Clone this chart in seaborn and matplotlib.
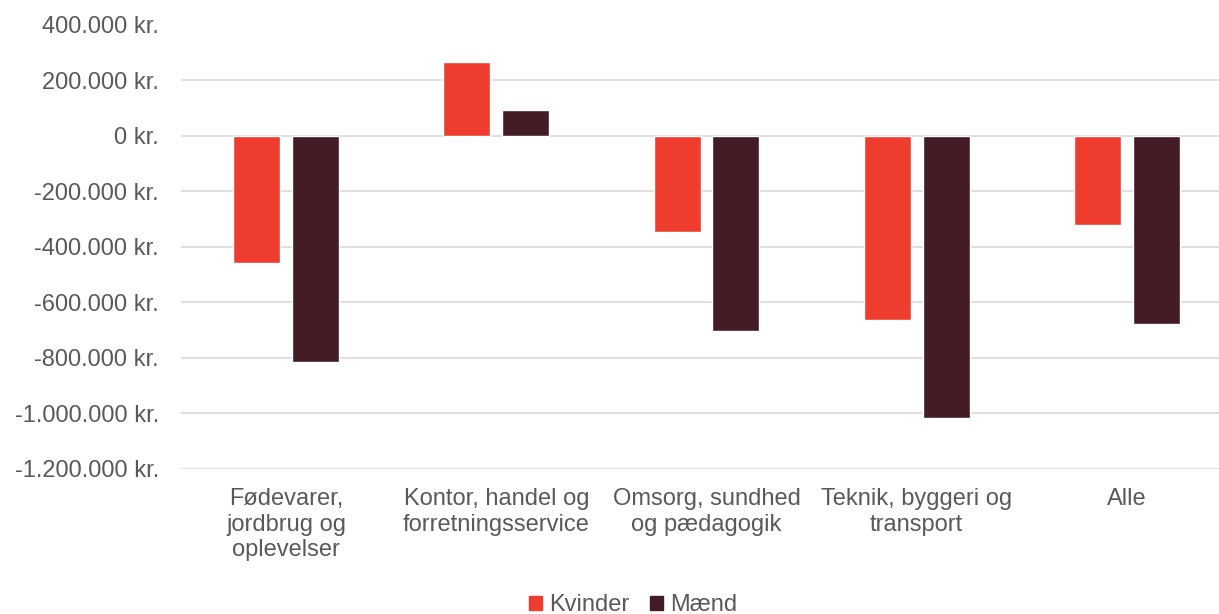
import pandas as pd
import matplotlib
matplotlib.use("Agg")
import matplotlib.pyplot as plt
import seaborn as sns
from matplotlib.ticker import FuncFormatter, MultipleLocator

# data
categories = [
    "Fødevarer,\njordbrug og\noplevelser",
    "Kontor, handel og\nforretningsservice",
    "Omsorg, sundhed\nog pædagogik",
    "Teknik, byggeri og\ntransport",
    "Alle",
]
kvinder = [-460000, 264000, -348000, -663000, -321000]
maend = [-815000, 91000, -704000, -1018000, -677000]
series = ["Kvinder", "Mænd"]
colors = ["#EE3D2F", "#441C26"]

df = pd.DataFrame({
    "kategori": categories * 2,
    "køn": [series[0]] * len(categories) + [series[1]] * len(categories),
    "værdi": kvinder + maend,
})

sns.set_theme(style="white")
plt.rcParams["font.family"] = ["Liberation Sans", "DejaVu Sans"]
text_color = "#595959"

fig = plt.figure(figsize=(12.19, 6.14), dpi=100)
ax = fig.add_axes([181 / 1219, (614 - 469) / 614, 1051 / 1219, 444.5 / 614])

sns.barplot(data=df, x="kategori", y="værdi", hue="køn", palette=colors,
            saturation=1, width=0.56, gap=0.2, ax=ax, legend=False, zorder=3)

ax.set_ylim(-1200000, 400000)
ax.set_xlim(-0.5, 4.5)
ax.yaxis.set_major_locator(MultipleLocator(200000))


def kr(v, pos):
    s = f"{abs(int(round(v))):,}".replace(",", ".")
    return ("-" if v < 0 else "") + s + " kr."


ax.yaxis.set_major_formatter(FuncFormatter(kr))
ax.grid(axis="y", color="#D9D9D9", linewidth=1.2, zorder=0)
for s in ax.spines.values():
    s.set_visible(False)
ax.tick_params(axis="y", length=0, pad=16, labelsize=17, labelcolor=text_color)
ax.tick_params(axis="x", length=0, pad=14, labelsize=17, labelcolor=text_color)
for lbl in ax.get_xticklabels():
    lbl.set_linespacing(1.2)
ax.set_xlabel("")
ax.set_ylabel("")

handles = [plt.Rectangle((0, 0), 1, 1, color=c) for c in colors]
fig.legend(handles, series, loc="center", bbox_to_anchor=(633 / 1219, 9 / 614),
           ncol=2, frameon=False, fontsize=17, labelcolor=text_color,
           handlelength=0.55, handleheight=0.55, handletextpad=0.3,
           columnspacing=0.9, borderpad=0)

fig.savefig("out.png", dpi=100)
